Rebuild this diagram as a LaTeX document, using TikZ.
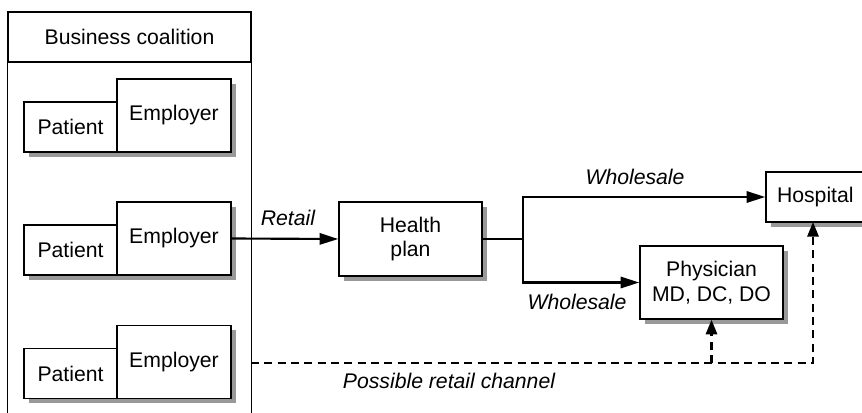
\documentclass[tikz,border=0pt]{standalone}
\usepackage{fontspec}
\setmainfont{Liberation Sans}
\usetikzlibrary{arrows.meta,shadows}
\begin{document}
\begin{tikzpicture}[x=0.75pt,y=-0.75pt,
  every node/.style={font=\fontsize{15.9}{18.5}\selectfont},
  box/.style={draw,line width=1.15pt,fill=white,inner sep=0pt,align=center,
    drop shadow={shadow xshift=3.6pt,shadow yshift=-3.6pt,fill=gray!80,opacity=1}},
  lbl/.style={font=\fontsize{15.9}{18.5}\selectfont\itshape},
  arr/.style={line width=1.6pt,-{Triangle[length=14pt,width=8.5pt]}},
  darr/.style={line width=1.6pt,dash pattern=on 6pt off 4pt,-{Triangle[length=11pt,width=8.5pt]}}
]
\useasboundingbox (0,0) rectangle (862,413);
\clip (0,0) rectangle (862,413);
\fill[white] (0,0) rectangle (862,413);
% business coalition
\node[draw,line width=0.8pt,minimum width=182.25pt,minimum height=37.5pt,inner sep=0pt] (coal) at (129.5,37) {Business coalition};
\draw[line width=0.8pt] (coal.south west) -- ++(0,360);
\draw[line width=0.8pt] (coal.south east) -- ++(0,360);
% rows
\node[box,minimum width=69.75pt,minimum height=37.5pt] (p1) at (70.5,127) {Patient};
\node[box,minimum width=85.5pt,minimum height=54.75pt] (e1) at (174,115.5) {Employer};
\node[box,minimum width=69.75pt,minimum height=37.5pt] (p2) at (70.5,250) {Patient};
\node[box,minimum width=85.5pt,minimum height=54.75pt] (e2) at (174,238.5) {Employer};
\node[box,minimum width=69.75pt,minimum height=37.5pt] (p3) at (70.5,373.5) {Patient};
\node[box,minimum width=85.5pt,minimum height=54.75pt] (e3) at (174,362) {Employer};
% right side
\node[box,minimum width=107.25pt,minimum height=55.5pt] (hp) at (410.5,239) {Health\\plan};
\node[box,minimum width=90pt,minimum height=37.5pt] (hos) at (826,197) {Hospital\hspace{16pt}};
\node[box,minimum width=107.25pt,minimum height=54.75pt] (phy) at (711.5,282.5) {Physician\\MD, DC, DO};
\coordinate (hb) at (813,222);
% connectors
\draw[arr] (e2.east) -- (hp.west);
\node[lbl] (lr) at (288,218) {Retail};
\coordinate (br) at (523,239);
\draw[line width=1.6pt] (hp.east) -- (br);
\draw[arr] (br) |- (hos.west);
\draw[arr] (br) |- (phy.west);
\node[lbl] (lw1) at (635,177) {Wholesale};
\node[lbl] (lw2) at (577,302) {Wholesale};
\coordinate (d0) at (251,363);
\draw[darr] (d0) -| (hb);
\draw[darr] (phy.south |- d0) -- (phy.south);
\node[lbl] (lp) at (449,381) {Possible retail channel};
\end{tikzpicture}
\end{document}
